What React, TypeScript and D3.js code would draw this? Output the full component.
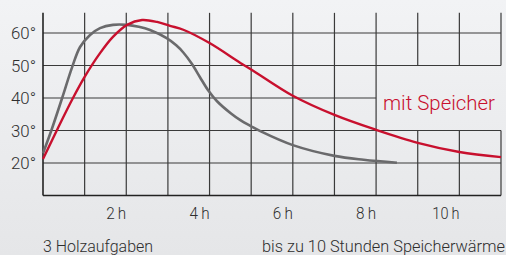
import React, { useEffect, useRef } from 'react';
import * as d3 from 'd3';

// ohne Speicher (grau)
const grayHours = [0, 0.2, 0.46, 0.7, 0.89, 1.13, 1.37, 1.68, 2.02, 2.3, 2.57, 2.97, 3.2, 3.37, 3.57, 3.77, 3.97, 4.18, 4.5, 4.74, 5.0, 5.22, 6.0, 7.0, 7.7, 8.5];
const grayTemps = [23, 30, 40, 49.5, 55.7, 59.4, 61.5, 62.5, 62.5, 61.9, 60.9, 58.4, 56.2, 54.0, 50.6, 46.4, 42.3, 39.0, 35.4, 33.2, 31.3, 29.8, 25.5, 22.2, 21, 20.1];

// mit Speicher (rot)
const redHours = [0, 0.36, 0.72, 1.0, 1.37, 1.68, 2.02, 2.38, 2.74, 3.05, 3.37, 4, 4.74, 5, 6, 7, 8, 9, 10, 11];
const redTemps = [21.2, 30.8, 40, 46.5, 53.8, 58.8, 62.5, 64, 63.4, 62.2, 61, 56.9, 50.8, 48.8, 40.7, 34.8, 30.2, 26.2, 23.4, 21.8];

const yTicks = [20, 30, 40, 50, 60];
const xTicks = [2, 4, 6, 8, 10];
const gridHours = d3.range(1, 12);

const FONT = 'Roboto, "Noto Sans", sans-serif';

const App = () => {
  const ref = useRef<SVGSVGElement>(null);

  useEffect(() => {
    const width = 506;
    const height = 255;
    const svg = d3.select(ref.current);
    svg.selectAll('*').remove();

    const x = d3.scaleLinear().domain([0, 11]).range([43, 501]);
    const y = d3.scaleLinear().domain([20, 60]).range([163, 33]);
    const yTop = 66.2;

    const defs = svg.append('defs');
    const grad = defs.append('linearGradient').attr('id', 'bg').attr('x1', 0).attr('y1', 0).attr('x2', 0).attr('y2', 1);
    grad.append('stop').attr('offset', '0%').attr('stop-color', '#f2f3f5');
    grad.append('stop').attr('offset', '100%').attr('stop-color', '#e5e6e8');

    svg.append('rect').attr('width', width).attr('height', height).attr('fill', 'url(#bg)');

    const grid = svg.append('g').attr('stroke', '#3a3a3a').attr('stroke-width', 1.2);

    // horizontal lines
    yTicks.forEach(t => {
      grid.append('line')
        .attr('x1', x(0)).attr('x2', t === 40 ? x(8) : x(11))
        .attr('y1', y(t)).attr('y2', y(t));
    });

    // vertical lines (with gap for the label at the right)
    gridHours.forEach(h => {
      if (h >= 9) {
        grid.append('line').attr('x1', x(h)).attr('x2', x(h)).attr('y1', y(yTop)).attr('y2', y(50));
        grid.append('line').attr('x1', x(h)).attr('x2', x(h)).attr('y1', y(30)).attr('y2', y(10));
      } else {
        grid.append('line').attr('x1', x(h)).attr('x2', x(h)).attr('y1', y(yTop)).attr('y2', y(10));
      }
    });

    // axes
    svg.append('line').attr('x1', x(0)).attr('x2', x(0)).attr('y1', y(yTop)).attr('y2', y(10))
      .attr('stroke', '#222').attr('stroke-width', 1.6);
    svg.append('line').attr('x1', x(0)).attr('x2', x(11)).attr('y1', y(10)).attr('y2', y(10))
      .attr('stroke', '#222').attr('stroke-width', 1.6);

    const line = d3.line<[number, number]>()
      .x(d => x(d[0]))
      .y(d => y(d[1]))
      .curve(d3.curveCatmullRom.alpha(0.5));

    svg.append('path')
      .attr('d', line(grayHours.map((h, i) => [h, grayTemps[i]] as [number, number])))
      .attr('fill', 'none').attr('stroke', '#6a6a6c').attr('stroke-width', 2.6);

    svg.append('path')
      .attr('d', line(redHours.map((h, i) => [h, redTemps[i]] as [number, number])))
      .attr('fill', 'none').attr('stroke', '#c8102e').attr('stroke-width', 2.4);

    const text = svg.append('g').attr('font-family', FONT).attr('font-weight', 300).attr('fill', '#2e2e2e');

    yTicks.forEach(t => {
      text.append('text')
        .attr('x', 36).attr('y', y(t)).attr('dy', '0.36em')
        .attr('text-anchor', 'end').attr('font-size', 17)
        .attr('textLength', 25).attr('lengthAdjust', 'spacingAndGlyphs')
        .text(`${t}°`);
    });

    xTicks.forEach(h => {
      text.append('text')
        .attr('x', x(h)).attr('y', 219)
        .attr('text-anchor', 'end').attr('font-size', 17)
        .attr('textLength', h >= 10 ? 27 : 20).attr('lengthAdjust', 'spacingAndGlyphs')
        .text(`${h}\u2009h`);
    });

    text.append('text').attr('x', 43).attr('y', 252).attr('font-size', 17)
      .attr('textLength', 110).attr('lengthAdjust', 'spacingAndGlyphs')
      .text('3 Holzaufgaben');
    text.append('text').attr('x', 262).attr('y', 252).attr('font-size', 17)
      .attr('textLength', 243).attr('lengthAdjust', 'spacingAndGlyphs')
      .text('bis zu 10 Stunden Speicherwärme');

    svg.append('text').attr('x', 383).attr('y', 110).attr('font-family', FONT).attr('font-weight', 300)
      .attr('font-size', 21)
      .attr('textLength', 112).attr('lengthAdjust', 'spacingAndGlyphs')
      .attr('fill', '#c8102e').text('mit Speicher');
  }, []);

  return <svg ref={ref} width={506} height={255} style={{ display: 'block', position: 'absolute', left: 0, top: 0 }} />;
};

export default App;
